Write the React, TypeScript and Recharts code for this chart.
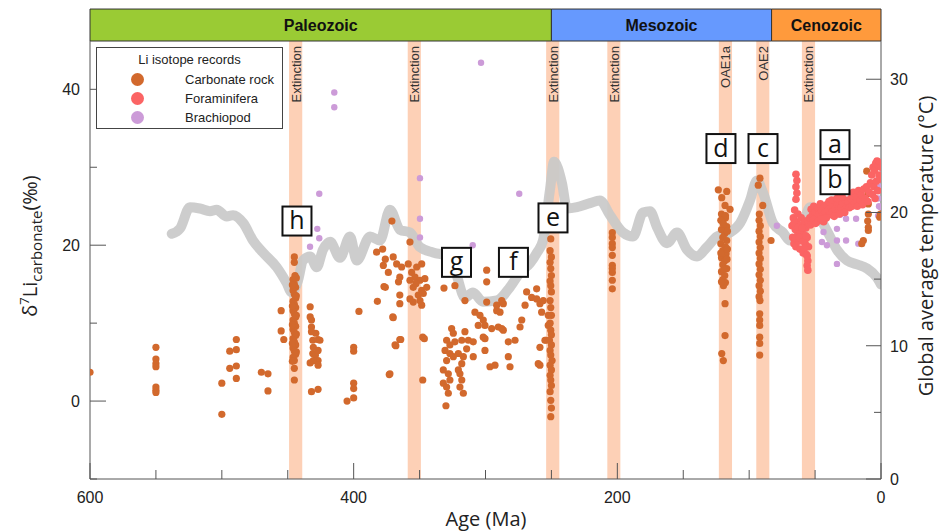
import React from 'react';
import {
  ComposedChart,
  Scatter,
  Line,
  XAxis,
  YAxis,
  ReferenceArea,
  ReferenceDot,
} from 'recharts';

// geologic eras (Ma), as drawn in the top bar
const eraNames = ['Paleozoic', 'Mesozoic', 'Cenozoic'];
const eraStart = [600, 250, 83];
const eraEnd = [250, 83, 0];

// shaded event intervals (Ma)
const eventNames = ['Extinction', 'Extinction', 'Extinction', 'Extinction', 'OAE1a', 'OAE2', 'Extinction'];
const eventStart = [449, 359, 254, 207.6, 123, 94.6, 60];
const eventEnd = [439, 349, 244, 197.7, 113, 84.7, 50];

// global average temperature curve: [age Ma, °C]
const temperature: [number, number][] = [
  [538, 18.4], [531.7, 18.8], [524.2, 20.4], [516.6, 20.3], [509, 20.1], [503.9, 20.2], [496.3, 19.7],
  [491.5, 19.8], [483.7, 19.2], [476.4, 17.9], [468.8, 17.0], [458.4, 15.9], [450.8, 14.7], [447, 14.0],
  [442.2, 14.9], [438.4, 16.4], [433.1, 16.7], [428, 15.9], [423.3, 17.2], [417.9, 17.8], [410.4, 16.6],
  [402.8, 18.2], [397.7, 16.4], [387.6, 18.2], [380, 17.9], [372.5, 20.2], [364.9, 18.7], [357.3, 18.5],
  [349.7, 17.4], [339.8, 17.0], [326.9, 16.7], [321.9, 15.3], [315.6, 13.6], [309.5, 14.0], [301.9, 13.3],
  [291.3, 13.4], [281.4, 14.4], [273.8, 15.5], [266.2, 16.2], [260.9, 17.0], [256.4, 17.9], [251.1, 21.7],
  [248, 23.8], [242, 22.2], [238.2, 20.3], [230.6, 20.4], [220.7, 20.7], [213.2, 20.9], [205.6, 19.8],
  [195.7, 18.5], [188.1, 18.2], [180.5, 20.0], [175.2, 20.1], [169.9, 18.9], [162.3, 17.7], [154.7, 18.5],
  [147.1, 17.2], [139.6, 16.7], [132, 17.4], [124.4, 18.2], [114.5, 18.5], [106.9, 19.2], [99.4, 20.9],
  [94.1, 22.4], [89.5, 21.5], [81.9, 19.2], [74.3, 18.5], [69, 17.9], [61.4, 18.2], [53.9, 20.4],
  [48.5, 20.2], [44, 19.2], [38.7, 18.2], [33.4, 17.2], [25.8, 16.4], [18.2, 16.1], [10.6, 15.8],
  [3, 15.1], [0, 14.6],
];

// Li isotope records: [age Ma, δ7Li ‰]
const carbonate: [number, number][] = [
  [600, 3.7],
  [550, 6.9], [550, 5.4], [550, 4.8], [550, 4.4], [550, 1.8], [550, 1.4], [550, 1.1],
  [500, 2.3], [500, -1.7], [494, 6.4], [494, 4.2], [489, 7.9], [489, 6.6], [489, 4.5], [489, 2.9],
  [470, 3.7], [465, 3.5], [465, 1.3], [455, 11.6], [455, 9.0], [453, 7.9],
  [445, 18.5], [445, 17.8], [444.5, 16.1], [446, 15.6], [445, 15.0], [444, 14.6], [446, 14.2], [445, 13.7],
  [444, 13.2], [446, 12.8], [445, 12.4], [444, 12.0], [446, 11.6], [445, 11.2], [444, 10.8], [446, 10.4],
  [445, 10.0], [444, 9.6], [446, 9.2], [445, 8.8], [444, 8.4], [446, 8.0], [445, 7.6], [444, 7.2],
  [446, 6.8], [445, 6.4], [444, 6.0], [446, 5.6], [445, 5.2], [445, 4.2], [445, 2.7],
  [443.5, 15.8], [446.5, 14.9], [443.5, 13.5], [446.5, 12.2], [443.5, 11.0], [446.5, 9.8], [443.5, 8.6],
  [446.5, 7.4], [443.5, 6.3], [446.5, 5.1],
  [433, 12.1], [433, 10.8], [432, 9.5], [432, 8.9], [431, 7.8], [430.6, 6.9], [431, 6.1], [433, 4.9],
  [429, 5.9], [427, 7.9], [425.6, 7.8], [427, 6.5], [427, 5.2], [427, 4.6], [432, 1.2], [427, 1.5],
  [430.6, 5.2], [428.7, 8.7], [432, 10.4],
  [405, 0.0], [400, 6.9], [400, 6.4], [400, 2.3], [400, 1.6], [400, 0.4], [396, 11.5], [382, 12.8],
  [377, 14.7], [373, 3.4], [370, 10.7], [368, 7.1], [365, 7.9],
  [371, 23.1], [382.6, 19.1], [378, 19.5], [376, 18.2], [370, 18.5], [377.5, 17.4], [373.7, 16.5],
  [367.4, 17.6], [363.6, 17.2], [365, 15.9], [366, 15.3], [376, 14.6], [365, 13.6], [365, 12.5],
  [357.3, 20.4], [358.6, 17.6], [356, 16.5], [353.5, 15.9], [349.7, 15.5], [354.8, 14.6], [348.4, 14.2],
  [351, 13.6], [347.2, 13.8], [354.8, 12.7], [348.4, 12.3], [346, 15.7], [348.4, 17.6], [352.2, 17.2],
  [344.6, 14.6], [357.3, 13.1], [349.7, 12.9], [357.3, 15.5], [352.7, 15.1], [347.6, 8.2], [346.4, 8.0],
  [347.6, 2.7], [370.3, 10.8], [364.3, 7.9], [368.6, 7.2], [372.5, 3.5],
  [331.5, 14.5], [323.2, 14.8], [315.6, 12.9], [299.1, 16.8], [299.1, 15.3], [299.1, 12.7], [308, 11.4],
  [304.2, 11.0], [301.7, 10.4], [305.5, 9.7], [300.4, 9.7], [295.3, 9.3], [290.3, 9.5], [286.5, 9.1],
  [291.5, 11.6], [286.5, 12.5], [289, 11.4], [300.4, 8.0], [300.4, 6.5], [296.6, 4.4], [292.8, 4.6],
  [309.3, 5.7], [282.7, 7.6], [282.7, 5.7],
  [325.7, 9.3], [324.4, 8.7], [329.5, 7.8], [327, 7.2], [323.2, 7.6], [330.7, 6.5], [327, 6.1], [329.5, 5.2],
  [324.4, 5.7], [332, 4.0], [328.2, 3.5], [332, 2.3], [327, 2.7], [329.5, 1.8], [328.2, 1.0], [330, -0.6],
  [315.6, 8.9], [318, 7.8], [313, 7.8], [309.3, 7.6], [314.3, 6.7], [316.8, 5.7], [318, 4.8], [319.4, 3.5],
  [318, 2.7], [319.4, 1.8], [316.8, 1.0], [320.6, 6.1], [320.6, 4.0],
  [287.7, 12.9], [291.5, 12.3], [287.7, 9.3], [301.7, 8.2], [277.6, 7.8], [281.4, 4.4], [273.8, 9.5],
  [272.5, 10.4], [270, 12.3], [268.8, 14.0], [265, 13.3], [261.2, 14.4], [261.2, 13.1], [258.7, 12.5],
  [257.4, 11.4], [256.2, 12.9], [258.7, 6.9], [258.7, 4.6], [254.1, 7.8], [260, 4.8], [252.4, 9.7],
  [252.4, 11.0], [254.9, 7.8],
  [250.5, 20.8], [251, 19.3], [250, 18.5], [251, 17.8], [250.5, 17.0], [250, 16.1], [251, 15.4], [250.5, 14.8],
  [250, 14.0], [251, 12.9], [250.5, 12.0], [250, 11.0], [251, 10.0], [250.5, 9.1], [250, 8.5], [251.5, 7.8],
  [250, 7.2], [251, 6.5], [250.5, 5.9], [249.5, 5.2], [251, 4.6], [250, 4.0], [251, 3.3], [250.5, 2.7],
  [250, 2.0], [251, 1.2], [250.5, 0.1], [250, -0.9], [250.5, -2.0],
  [203.8, 21.6], [203.8, 21.0], [203.8, 20.2], [203.8, 19.7], [203.8, 18.7], [203.8, 17.4], [203.8, 17.0],
  [203.8, 16.5], [203.8, 15.5], [203.8, 14.4],
  [123.4, 27.1], [117, 26.9], [120.8, 26.1], [118.3, 25.1], [114.5, 24.6],
  [121, 24.0], [118, 23.5], [120, 23.0], [117, 22.4], [121, 22.0], [118.5, 21.5], [120, 21.0], [117, 20.6],
  [121.5, 20.2], [118, 19.8], [120, 19.3], [117.5, 18.9], [121, 18.4], [118.5, 18.0], [120, 17.5], [117, 17.0],
  [121, 16.6], [118.5, 16.1], [120, 15.6], [118, 15.2], [119.5, 14.8],
  [118, 23.8], [121.5, 23.2], [116.5, 21.8], [119.5, 22.7], [116.5, 19.5], [121.5, 19.0], [116.8, 18.2],
  [119, 16.9], [121, 15.3],
  [118.3, 12.5], [118.3, 8.4], [120.8, 6.1], [119.6, 5.2],
  [91.8, 28.6], [93.1, 27.7], [89.7, 25.1], [92.3, 24.0],
  [92.5, 23.2], [91.5, 22.5], [92.5, 21.8], [91.5, 21.1], [92.5, 20.4], [91.5, 19.7], [92.5, 19.0],
  [91.5, 18.3], [92.5, 17.6], [91.5, 16.9], [92.5, 16.2], [91.5, 15.5], [92.5, 14.8], [91.5, 14.1],
  [92.5, 13.4], [91.8, 12.9],
  [92, 11.2], [92, 10.4], [92, 9.7], [92, 8.2], [92, 7.4], [92, 5.9], [83.4, 20.6],
  [10.8, 29.5], [9.6, 26.6], [9.6, 25.3], [9.6, 24.0], [10.1, 23.1], [9.6, 22.3], [9.6, 21.9],
  [13.4, 20.6], [14.6, 20.2], [0.5, 24.0], [1.0, 23.6],
];

const foraminifera: [number, number][] = [
  [64.5, 29.1], [63.8, 28.3], [64.5, 27.5], [63.8, 26.7], [64.5, 25.9],
  [67.5, 22.5], [67, 21.0], [66.5, 23.5], [66, 20.2], [65.5, 24.5], [65, 22.0], [64.5, 19.8], [64, 23.0],
  [63.5, 21.2], [63, 24.0], [62.5, 20.5], [62, 22.6], [61.5, 19.5], [61, 21.5], [60.5, 23.5], [60, 20.8],
  [59.5, 22.0], [59, 19.0], [58.5, 21.2], [58, 23.0], [57.5, 20.2], [57, 22.2], [56.5, 18.8], [56, 21.0],
  [55.5, 23.2], [55, 19.8],
  [66, 22.8], [65, 20.9], [63, 22.3], [62, 21.0], [60, 22.2], [59, 20.5], [58, 19.6], [57, 21.2],
  [55.5, 18.0], [56, 17.4], [55.5, 16.8], [56, 18.6],
  [54, 23.5], [53, 24.6], [52, 23.9], [51, 25.0], [50, 24.2], [49, 23.6], [48, 24.8], [47, 24.0],
  [46, 25.3], [45, 24.4], [44, 23.8], [43, 24.9], [42, 24.2], [41, 25.2], [40, 24.5], [39, 23.9],
  [38, 25.0], [37, 24.3], [36, 25.5], [35, 24.6], [34, 24.0], [33, 25.2], [32, 24.7], [31, 25.6],
  [30, 24.8], [29, 25.3], [28, 24.5], [27, 25.8], [26, 25.0], [25, 25.5], [24, 24.8],
  [53.5, 22.6], [51.5, 23.3], [49.5, 22.8], [47.5, 23.1], [45.5, 23.4], [43.5, 23.0], [41.5, 23.5],
  [39.5, 25.6], [37.5, 25.8], [35.5, 23.7], [33.5, 26.0], [31.5, 24.0], [29.5, 26.2], [27.5, 24.2],
  [23, 26.0], [22, 25.0], [21, 26.8], [20, 25.4], [19, 26.2], [18, 25.0], [17, 27.0], [16, 25.8],
  [15, 26.5], [14, 25.2], [13, 27.2], [12, 26.0], [11, 27.5], [10, 25.6], [9, 26.8], [8, 28.0],
  [7, 29.0], [6.5, 26.5], [6, 30.0], [5.5, 27.5], [5, 29.6], [4.5, 26.0], [4, 30.5], [3.5, 28.2],
  [3, 30.8], [2.5, 27.0], [2, 30.2], [1.5, 29.0], [1, 30.6], [0.5, 28.5], [0, 30.0],
];

const brachiopod: [number, number][] = [
  [414.7, 39.6], [414.7, 37.7], [426.1, 26.6], [427.6, 22.1], [426.1, 20.9], [433.1, 19.8],
  [349.7, 28.6], [349.7, 23.4], [349.7, 21.0], [303.4, 43.4], [274.4, 26.6], [309.7, 20.0],
  [79, 22.5],
  [31, 23.9], [26.5, 23.4], [18.9, 23.4], [33.4, 22.1], [43.6, 21.7], [44.8, 20.4], [41, 20.0],
  [33.4, 20.6], [26.5, 20.6], [17.2, 20.2], [33.4, 17.6],
  [3, 28.3], [2.5, 27.0], [2, 26.0], [1.5, 25.0], [1, 27.5], [0.5, 24.9], [2.2, 23.8],
];

// boxed panel letters: [letter, age Ma, δ7Li ‰]
const boxLetters = ['a', 'b', 'c', 'd', 'e', 'f', 'g', 'h'];
const boxAge = [34.9, 34.9, 89.5, 121.4, 248.8, 278.8, 322, 443];
const boxD7Li = [32.9, 28.4, 32.4, 32.4, 23.5, 17.8, 17.8, 23.1];

const xTicks = [600, 550, 500, 450, 400, 350, 300, 250, 200, 150, 100, 50, 0];
const xLabelled = [600, 400, 200, 0];
const leftTicks = [-10, 0, 10, 20, 30, 40];
const leftLabelled = [0, 20, 40];
const rightTicks = [0, 5, 10, 15, 20, 25, 30];
const rightLabelled = [0, 10, 20, 30];

const LEFT_MIN = -10;
const LEFT_MAX = 46.2;
const ERA_TOP = 50.3;

const eraColors = ['#9acb34', '#6699fe', '#ff9a3c'];
const seriesColors = { carbonate: '#d2692d', foraminifera: '#fb6464', brachiopod: '#cc9bd8' };
const axisColor = '#555';
const tickFont = '"Liberation Sans", Arial, sans-serif';
const titleFont = '"Open Sans", "Noto Sans", sans-serif';

const toPts = (arr: [number, number][]) => arr.map(([age, d]) => ({ age, d }));

function XTick({ x, y, payload }: any) {
  const major = xLabelled.includes(payload.value);
  return (
    <g>
      <line x1={x} x2={x} y1={y} y2={y - (major ? 16 : 9)} stroke={axisColor} />
      {major && (
        <text x={x} y={y + 24} textAnchor="middle" fontSize={16} fill="#222" fontFamily={tickFont}>
          {payload.value}
        </text>
      )}
    </g>
  );
}

function LeftTick({ x, y, payload }: any) {
  const v = payload.value;
  const major = leftLabelled.includes(v) && v !== 40;
  return (
    <g>
      <line x1={x} x2={x + (major ? 16 : 7)} y1={y} y2={y} stroke={axisColor} />
      {leftLabelled.includes(v) && (
        <text x={x - 10} y={y + 6} textAnchor="end" fontSize={16} fill="#222" fontFamily={tickFont}>
          {v}
        </text>
      )}
    </g>
  );
}

function RightTick({ x, y, payload }: any) {
  const major = rightLabelled.includes(payload.value);
  return (
    <g>
      <line x1={x} x2={x - (major ? 15 : 7)} y1={y} y2={y} stroke={axisColor} />
      {major && (
        <text x={x + 9} y={y + 6} textAnchor="start" fontSize={16} fill="#222" fontFamily={tickFont}>
          {payload.value}
        </text>
      )}
    </g>
  );
}

const BottomTitle = () => (
  <text x={486} y={526} textAnchor="middle" fontSize={20} fill="#222" fontFamily={titleFont}>
    Age (Ma)
  </text>
);

const LeftTitle = () => (
  <text transform="translate(37,246) rotate(-90)" textAnchor="middle" fontSize={20} fill="#222" fontFamily={titleFont}>
    δ<tspan dy={-8} fontSize={13}>7</tspan>
    <tspan dy={8}>Li</tspan>
    <tspan dy={5} fontSize={15}>carbonate</tspan>
    <tspan dy={-5}>(‰)</tspan>
  </text>
);

const RightTitle = () => (
  <text transform="translate(933,246) rotate(-90)" textAnchor="middle" fontSize={20} fill="#222" fontFamily={titleFont}>
    Global average temperature (°C)
  </text>
);

const dot = (color: string, r: number) => (p: any) =>
  <circle cx={p.cx} cy={p.cy} r={r} fill={color} />;

function LegendBox() {
  const rows: [string, string][] = [
    ['Carbonate rock', seriesColors.carbonate],
    ['Foraminifera', seriesColors.foraminifera],
    ['Brachiopod', seriesColors.brachiopod],
  ];
  return (
    <div
      style={{
        position: 'absolute', left: 96, top: 47, width: 185, height: 80,
        border: '1px solid #444', background: '#fff', fontFamily: tickFont, fontSize: 13, color: '#222',
      }}
    >
      <div style={{ position: 'absolute', left: 0, width: 185, top: 4, textAlign: 'center' }}>Li isotope records</div>
      {rows.map(([name, color], i) => (
        <div key={name} style={{ position: 'absolute', top: 24 + i * 19, left: 0, height: 16 }}>
          <span style={{ position: 'absolute', left: 34, top: 1, width: 13, height: 13, borderRadius: 7, background: color }} />
          <span style={{ position: 'absolute', left: 88, top: 0, whiteSpace: 'nowrap' }}>{name}</span>
        </div>
      ))}
    </div>
  );
}

export default function App() {
  return (
    <div style={{ position: 'absolute', left: 0, top: 0, width: 941, height: 531, background: '#fff', fontFamily: tickFont }}>
      <ComposedChart width={941} height={531} margin={{ top: 41, right: 10, bottom: 12, left: 30 }}>
        <XAxis
          type="number"
          dataKey="age"
          domain={[0, 600]}
          reversed
          allowDataOverflow
          ticks={xTicks}
          interval={0}
          tickSize={0}
          tickMargin={0}
          tickLine={false}
          tick={<XTick />}
          axisLine={{ stroke: axisColor }}
          height={40}
          label={<BottomTitle />}
        />
        <YAxis
          yAxisId="left"
          type="number"
          dataKey="d"
          domain={[LEFT_MIN, LEFT_MAX]}
          allowDataOverflow
          ticks={leftTicks}
          interval={0}
          tickSize={0}
          tickMargin={0}
          tickLine={false}
          tick={<LeftTick />}
          axisLine={{ stroke: axisColor }}
          width={60}
          label={<LeftTitle />}
        />
        <YAxis
          yAxisId="right"
          orientation="right"
          type="number"
          dataKey="t"
          domain={[0, 32.87]}
          allowDataOverflow
          ticks={rightTicks}
          interval={0}
          tickSize={0}
          tickMargin={0}
          tickLine={false}
          tick={<RightTick />}
          axisLine={{ stroke: axisColor }}
          width={50}
          label={<RightTitle />}
        />

        {eventNames.map((n, i) => (
          <ReferenceArea
            key={'ev' + i}
            yAxisId="left"
            x1={eventStart[i]}
            x2={eventEnd[i]}
            y1={LEFT_MIN}
            y2={LEFT_MAX}
            fill="#fdd0b6"
            fillOpacity={1}
            stroke="none"
          />
        ))}

        <Line
          yAxisId="right"
          data={temperature.map(([age, t]) => ({ age, t }))}
          dataKey="t"
          type="monotone"
          stroke="#c9c9c9"
          strokeOpacity={0.92}
          strokeWidth={10}
          strokeLinecap="round"
          strokeLinejoin="round"
          dot={false}
          activeDot={false}
          isAnimationActive={false}
        />

        <Scatter yAxisId="left" data={toPts(brachiopod)} dataKey="d" shape={dot(seriesColors.brachiopod, 3.2)} isAnimationActive={false} />
        <Scatter yAxisId="left" data={toPts(carbonate)} dataKey="d" shape={dot(seriesColors.carbonate, 3.6)} isAnimationActive={false} />
        <Scatter yAxisId="left" data={toPts(foraminifera)} dataKey="d" shape={dot(seriesColors.foraminifera, 3.8)} isAnimationActive={false} />

        {eventNames.map((n, i) => (
          <ReferenceDot
            key={'evl' + i}
            yAxisId="left"
            x={(eventStart[i] + eventEnd[i]) / 2}
            y={LEFT_MAX}
            r={0}
            ifOverflow="visible"
            shape={(p: any) => (
              <text
                transform={`translate(${p.cx + 5},${p.cy + 5}) rotate(-90)`}
                textAnchor="end"
                fontSize={13}
                fill="#333"
                fontFamily={tickFont}
              >
                {n}
              </text>
            )}
          />
        ))}

        {boxLetters.map((l, i) => (
          <ReferenceDot
            key={'box' + l}
            yAxisId="left"
            x={boxAge[i]}
            y={boxD7Li[i]}
            r={0}
            ifOverflow="visible"
            shape={(p: any) => (
              <g>
                <rect x={p.cx - 14.5} y={p.cy - 14.5} width={29} height={29} fill="#fff" stroke="#111" strokeWidth={2} />
                <text x={p.cx} y={p.cy + 8} textAnchor="middle" fontSize={25} fill="#111" fontFamily={titleFont}>
                  {l}
                </text>
              </g>
            )}
          />
        ))}

        {eraNames.map((n, i) => (
          <ReferenceArea
            key={'era' + i}
            yAxisId="left"
            x1={eraStart[i]}
            x2={eraEnd[i]}
            y1={LEFT_MAX}
            y2={ERA_TOP}
            ifOverflow="visible"
            fill={eraColors[i]}
            fillOpacity={1}
            stroke="#333"
            label={{ value: n, position: 'center', fill: '#111', fontSize: 16, fontWeight: 700, fontFamily: tickFont }}
          />
        ))}
      </ComposedChart>
      <LegendBox />
    </div>
  );
}
